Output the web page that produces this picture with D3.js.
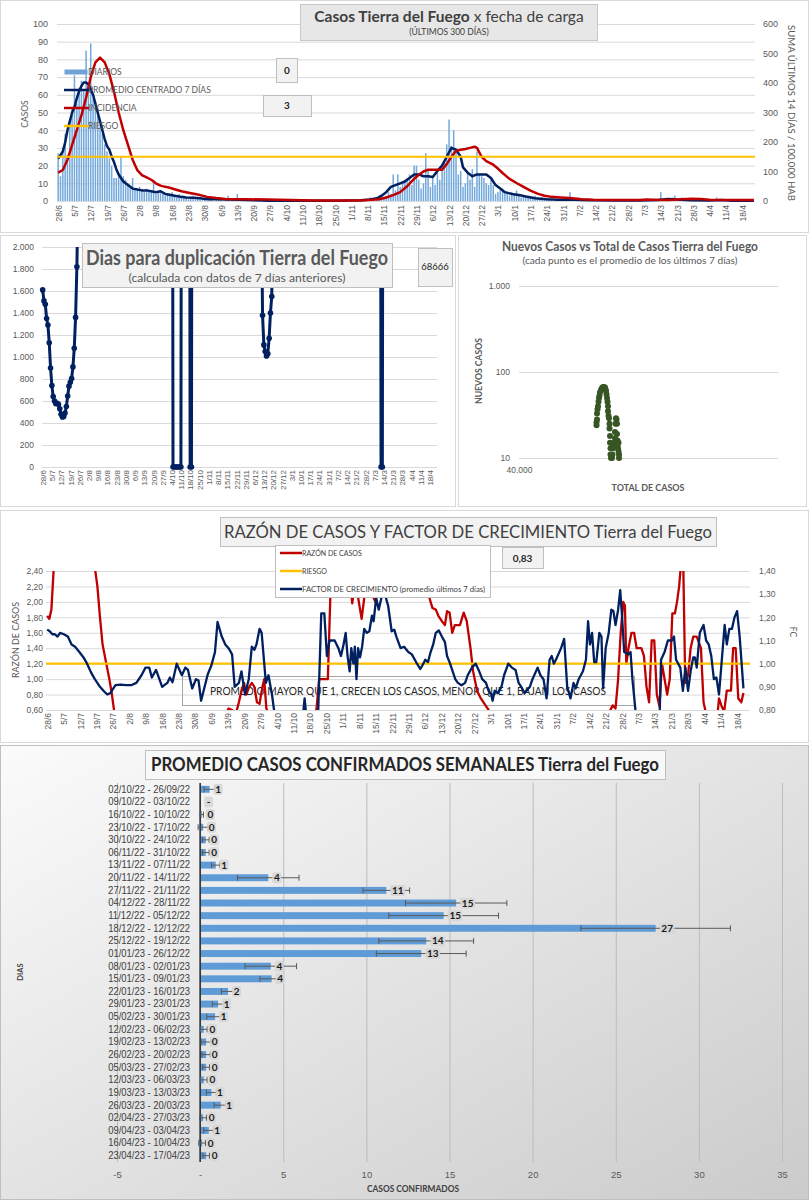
<!DOCTYPE html>
<html>
<head>
<meta charset="utf-8">
<script src="https://cdn.jsdelivr.net/npm/d3@7"></script>
<style>
body{margin:0;background:#fff}
svg{display:block;font-family:Lato,"Open Sans",sans-serif}
</style>
</head>
<body>
<svg id="chart" width="809" height="1200"></svg>
<script>
// ---------- data ----------
const weekLabels = ["28/6","5/7","12/7","19/7","26/7","2/8","9/8","16/8","23/8","30/8","6/9","13/9","20/9","27/9","4/10","11/10","18/10","25/10","1/11","8/11","15/11","22/11","29/11","6/12","13/12","20/12","27/12","3/1","10/1","17/1","24/1","31/1","7/2","14/2","21/2","28/2","7/3","14/3","21/3","28/3","4/4","11/4","18/4"];

// casos diarios (300 dias desde 28/6)
const diarios = [
  27,14,30,38,26,45,52,71,55,64, 68,62,85,66,89,58,56,48,42,38,
  32,28,24,20,13,13,15,25,14,12, 10,8,13,7,6,8,6,5,7,6,
  5,12,4,5,6,4,3,4,3,5, 3,2,4,2,3,2,1,2,3,1,
  2,1,1,2,0,1,1,0,2,1, 1,0,1,3,0,1,0,4,1,0,
  1,0,0,1,0,0,1,0,0,0, 0,1,0,0,0,0,0,0,0,0,
  0,0,0,0,0,0,0,0,0,0, 0,0,0,0,0,0,0,0,1,0,
  0,0,0,0,0,0,0,0,0,0, 0,1,0,0,2,1,0,2,1,3,
  2,3,5,4,15,6,15,8,10,12, 13,15,9,20,20,12,7,10,27,17,
  8,14,9,16,12,18,22,32,46,31, 40,29,15,17,8,10,16,12,18,8,
  28,15,14,13,10,9,12,9,4,5, 6,7,5,4,3,5,4,6,3,2,
  3,2,3,2,1,3,2,1,2,1, 1,2,1,0,1,1,0,1,0,1,
  5,0,1,0,0,1,0,0,0,1, 0,0,1,0,0,0,0,0,1,0,
  0,0,0,0,1,0,0,0,0,0, 0,0,1,0,0,0,0,0,0,5,
  0,0,1,0,2,3,0,1,2,1, 0,0,1,0,0,0,0,0,0,0,
  0,0,0,2,0,0,0,0,0,0, 0,0,0,0,0,0,0,0,0,0
];
// promedio centrado 7 dias [dia, casos]
const promedio7 = [[0,24],[1,26],[2,28],[3,33],[4,40],[5,45],[6,50],[7,53],[8,58],[9,62],[10,65],[11,67],[12,67],[13,66],[14,63],[15,60],[16,55],[17,50],[18,45],[19,40],[20,35],[21,31],[22,29],[23,25],[24,22],[25,18],[26,15],[27,13],[28,11],[29,10],[30,9],[32,7],[34,6.5],[36,6],[38,6],[40,5.5],[42,5],[44,5.5],[46,4],[48,3.5],[50,3],[52,2.5],[55,2],[58,1.8],[61,1.5],[64,1],[68,1],[72,0.8],[78,0.7],[85,0.4],[90,0.2],[100,0.1],[120,0.1],[130,0.4],[134,0.8],[137,1.5],[139,3],[141,5],[143,8],[145,9],[147,10],[149,11],[151,13],[153,15],[155,15],[157,14],[159,14],[161,13.6],[163,17],[165,20],[167,25],[169,30],[171,29],[173,25],[174,19],[176,16],[178,14],[180,15],[182,15],[184,15],[186,13],[188,9],[190,7],[192,5],[195,4],[198,3.4],[201,2.5],[205,1.5],[210,1],[215,0.7],[220,0.9],[225,0.6],[230,0.4],[240,0.3],[250,0.3],[258,0.6],[262,1.2],[266,0.8],[272,0.4],[280,0.3],[285,0.5],[290,0.2],[299,0.1]];
// incidencia: suma 14 dias / 100.000 hab [dia, valor]
const incidencia = [[0,96],[2,105],[4,140],[6,190],[8,240],[10,290],[12,350],[14,420],[16,470],[18,486],[20,470],[22,430],[24,370],[26,300],[28,240],[30,190],[32,140],[34,105],[36,88],[38,80],[40,72],[42,60],[44,52],[46,48],[48,45],[50,40],[53,33],[56,28],[60,22],[64,14],[68,10],[72,7],[80,6],[90,5],[100,3],[110,2],[130,2],[135,4],[138,6],[141,12],[144,20],[147,30],[150,50],[153,75],[155,89],[157,100],[159,106],[162,106],[165,106],[167,125],[169,150],[171,170],[173,174],[175,176],[177,180],[179,184],[180,180],[182,150],[184,135],[187,123],[189,110],[191,95],[194,75],[197,61],[200,48],[203,35],[206,25],[209,18],[212,14],[216,12],[220,10],[225,6],[230,4],[240,3],[250,3],[253,5],[256,4],[262,3],[268,6],[272,8],[276,7],[280,4],[290,3],[299,3]];
const riesgoIncidencia = 150;
const cajas1 = ["0","3"];

// dias para duplicacion [dia, dias] (null = corte)
const duplicacion = [[0,1610],[1,1510],[2,1480],[3,1350],[4,1290],[5,1130],[6,900],[7,740],[8,640],[9,600],[10,575],[11,580],[12,570],[13,530],[14,480],[15,455],[16,460],[17,490],[18,550],[19,645],[20,735],[21,770],[22,805],[23,910],[24,1080],[25,1360],[26,1820],[27,2600],[28,null],
  [98,9000],[99,0],[100,0],[101,0],[102,0],[103,0],[104,0],[105,0],[106,9000],[107,null],
  [111,9000],[112,0],[113,0],[114,9000],[115,null],
  [166,2600],[167,1380],[168,1110],[169,1050],[170,1010],[171,1030],[172,1170],[173,1400],[174,1550],[175,2600],[176,null],
  [256,9000],[257,0],[258,0],[259,9000]];
const cajaDup = "68666";

// nuevos casos vs total de casos [total, nuevos]
const totalVsNuevos = [[49277,24],[49277,26],[49337,28],[49337,33],[49397,37],[49456,40],[49516,45],[49576,50],[49636,53],[49696,58],[49815,62],[49935,65],[50055,67],[50175,67],[50294,66],[50354,63],[50414,60],[50474,55],[50534,50],[50593,45],[50653,40],[50653,35],[50713,31],[50773,29],[50833,25],[50833,22],[50893,18],[50893,15],[50952,13],[50952,11],[51012,10],
  [51132,10],[51192,11],[51252,13],[51311,14],[51371,15],[51371,14],[51431,13.6],[51491,17],[51491,20],[51551,25],[51610,29],[51670,28],[51730,25],[51730,19],[51790,16],[51790,14],[51850,15],[51850,13],[51909,15],[51909,12],[51969,11],[51969,10]];

// razon de casos [dia, razon]
const razon = [[0,1.82],[0.9,1.78],[1.8,1.9],[3.1,2.6],[9.3,3.0],[18.1,3.0],[20.3,2.45],[21.4,2.2],[22.5,1.8],[23.6,1.45],[25.2,1.2],[26.5,1.0],[27.6,0.8],[28.7,0.55],[42.4,0.3],[64.5,0.3],[75.5,0.4],[76.6,0.58],[77.3,0.62],[78.8,0.6],[80.4,0.55],[81.7,0.7],[82.8,0.85],[83.9,0.95],[84.8,0.8],[86.1,0.9],[87.2,0.95],[88.3,0.9],[89.4,0.7],[90.5,0.68],[91.6,0.88],[92.5,1.0],[93.4,0.62],[94.3,0.55],[100,0.3],[108.6,0.3],[113,0.45],[114.8,0.62],[115.9,1.0],[118.5,1.0],[119.6,1.0],[120.7,2.1],[121.9,2.5],[124.1,2.6],[128.5,2.45],[130,1.98],[131.3,2.3],[132.8,2.0],[134,1.78],[135.1,2.05],[136.2,2.3],[138.4,2.1],[139.9,2.0],[141.3,2.3],[143.9,2.1],[146.1,2.5],[150.6,2.6],[155,2.6],[159.4,2.5],[162.9,2.05],[164.2,1.92],[165.6,1.9],[166.7,1.82],[168.2,1.75],[169.5,1.7],[170.4,1.88],[171.5,1.86],[172.6,1.6],[173.7,1.7],[175.9,1.7],[177.5,1.86],[178.8,1.75],[180.4,1.4],[181.5,1.1],[183.2,0.85],[184.8,0.75],[187,0.65],[188.1,0.6],[189.2,0.5],[200,0.3],[225,0.3],[236.6,0.4],[240,0.6],[241,0.66],[242.2,0.62],[243.3,1.0],[244.4,1.6],[245.5,2.0],[246.2,1.95],[246.8,1.2],[247.7,1.4],[249,1.6],[250.1,1.6],[251.2,1.4],[253.2,1.4],[254.3,1.3],[255.4,0.9],[256.5,0.7],[257.6,1.5],[258.7,1.5],[259.8,0.8],[260.9,0.65],[262,1.2],[263.1,1.0],[264.2,0.8],[265.3,1.0],[266.4,1.85],[267.5,1.85],[268.4,2.0],[269.3,2.2],[270.4,2.6],[271,2.6],[271.9,0.95],[273.1,1.05],[274.2,1.4],[275.3,1.55],[276.8,1.55],[278.6,1.4],[279.7,0.7],[280.8,0.55],[285.2,0.4],[286.3,0.75],[287.4,0.65],[288.5,0.58],[289.6,0.85],[291.4,0.85],[292.3,1.4],[293.4,1.4],[294.5,0.75],[295.8,0.7],[296.7,0.82]];
// factor de crecimiento (promedio 7 dias) [dia, fc]
const factorCrec = [[0,1.147],[1.1,1.14],[2.2,1.127],[3.3,1.127],[4.4,1.117],[5.5,1.133],[7.1,1.127],[8.8,1.117],[10.4,1.083],[11.9,1.073],[13.7,1.05],[15.5,1.027],[17,1.0],[18.8,0.96],[20.3,0.933],[22.5,0.9],[24.3,0.88],[25.6,0.867],[26.9,0.873],[29.1,0.907],[31.3,0.91],[33.6,0.907],[35.8,0.907],[38,0.917],[40.2,0.95],[41.9,0.983],[43.5,0.983],[44.6,0.94],[46.4,0.973],[49,0.9],[51.2,0.917],[52.3,0.94],[53.4,0.92],[55.2,1.0],[57.4,0.95],[58.9,0.983],[60,0.973],[61.8,0.893],[63.4,0.933],[64.5,0.927],[65.6,0.84],[67.1,0.9],[68.4,0.953],[70,0.993],[71.5,1.05],[72.6,1.18],[74.4,1.117],[75.9,1.083],[77.3,1.067],[78.8,1.04],[79.9,0.9],[81.7,0.917],[82.8,0.967],[84.3,0.867],[85.9,0.933],[87.2,1.073],[88.3,1.06],[89.2,1.083],[90.5,1.15],[91.4,1.133],[92.5,1.0],[93.2,0.917],[94.3,0.95],[95.8,0.867],[97.1,0.767],[99.8,0.7],[104.2,0.7],[108.6,0.733],[109.7,0.85],[110.8,0.733],[115.2,0.7],[116.8,1.217],[118.1,1.217],[119.2,1.033],[120.3,1.1],[122.5,1.1],[124.1,1.067],[125.2,1.033],[126.3,1.083],[127.2,1.133],[128,1.033],[128.9,0.967],[129.6,1.067],[130.5,1.0],[131.1,1.073],[131.8,0.933],[132.5,1.067],[133.3,1.027],[134.2,1.073],[135.1,1.15],[136.2,1.133],[137.3,1.14],[138.4,1.207],[139.1,1.183],[140.2,1.283],[141.3,1.233],[142.4,1.283],[143.9,1.3],[145.3,1.25],[146.8,1.14],[147.9,1.147],[148.8,1.117],[150.6,1.067],[152.1,1.073],[153.9,1.05],[155.4,1.04],[157.2,1.007],[159,0.977],[160.3,1.0],[161.1,1.017],[162.3,1.007],[163.4,1.05],[164.5,1.083],[165.6,1.133],[166.9,1.143],[168.2,1.117],[169.5,1.093],[170.4,1.033],[171.7,1.0],[172.8,0.967],[173.9,0.933],[175,0.917],[176.6,0.907],[178.1,0.917],[179.2,0.95],[181,0.983],[182.6,1.0],[184.1,0.967],[185.4,0.933],[187,0.917],[188.1,0.883],[189.2,0.867],[189.8,0.84],[190.7,0.883],[192,0.873],[193.6,0.9],[194.7,0.95],[196.5,1.0],[198,0.983],[199.6,0.973],[200.9,0.917],[202.4,0.893],[203.5,0.873],[205.7,0.9],[206.8,0.933],[209,0.983],[210.2,0.95],[211.5,0.933],[212.8,0.85],[214.1,1.017],[215,1.033],[215.9,1.0],[216.8,1.017],[219,1.067],[220.3,1.107],[221.6,0.9],[223,0.85],[224.3,0.917],[225.2,0.893],[226.5,0.933],[228.3,0.967],[229.6,1.017],[230.5,1.183],[231.3,1.083],[232.2,1.133],[233.1,1.007],[234,1.007],[235.3,1.133],[236.2,1.117],[236.9,0.893],[238,1.067],[239.3,1.133],[240.4,1.233],[241.3,1.227],[242.2,1.167],[243.3,1.233],[244.2,1.317],[245,1.2],[245.9,1.05],[247.7,1.04],[248.6,1.05],[249.4,0.933],[251,0.767],[254.3,0.733],[258.7,0.7],[260.9,0.733],[261.6,1.017],[263.1,1.05],[264.5,1.1],[266.2,1.1],[267.1,1.117],[268,1.017],[269.8,0.983],[270.9,0.883],[272,0.983],[273.1,0.883],[274.2,0.967],[275.3,1.027],[276,1.027],[276.8,0.983],[278.1,1.133],[279.7,1.167],[280.8,1.1],[281.9,1.083],[283,1.033],[284.1,0.933],[285.2,0.94],[286.3,0.867],[287.9,1.067],[288.7,1.167],[289.6,1.083],[290.7,1.15],[291.8,1.15],[292.9,1.2],[294,1.227],[295.1,1.117],[296.7,0.893]];
const riesgoRazon = 1.2;
const cajaRazon = "0,83";

// promedio semanal de casos confirmados
const semanas = ["02/10/22 - 26/09/22","09/10/22 - 03/10/22","16/10/22 - 10/10/22","23/10/22 - 17/10/22","30/10/22 - 24/10/22","06/11/22 - 31/10/22","13/11/22 - 07/11/22","20/11/22 - 14/11/22","27/11/22 - 21/11/22","04/12/22 - 28/11/22","11/12/22 - 05/12/22","18/12/22 - 12/12/22","25/12/22 - 19/12/22","01/01/23 - 26/12/22","08/01/23 - 02/01/23","15/01/23 - 09/01/23","22/01/23 - 16/01/23","29/01/23 - 23/01/23","05/02/23 - 30/01/23","12/02/23 - 06/02/23","19/02/23 - 13/02/23","26/02/23 - 20/02/23","05/03/23 - 27/02/23","12/03/23 - 06/03/23","19/03/23 - 13/03/23","26/03/23 - 20/03/23","02/04/23 - 27/03/23","09/04/23 - 03/04/23","16/04/23 - 10/04/23","23/04/23 - 17/04/23"];
const promSemanal = [0.57,0,0.1,0.18,0.34,0.34,0.94,4.1,11.2,15.4,14.65,27.4,13.6,13.3,4.25,4.3,1.68,1.08,0.9,0.22,0.36,0.36,0.36,0.22,0.68,1.24,0.18,0.52,0.12,0.36];
const errSemanal = [0.33,0,0.1,0.3,0.2,0.2,0.25,1.85,1.4,3.05,3.3,4.5,2.85,2.7,1.55,0.7,0.4,0.35,0.5,0.2,0.3,0.25,0.2,0.2,0.3,0.4,0.2,0.3,0.2,0.2];

// ---------- helpers ----------
const NAVY = '#002060', RED = '#c00000', GOLD = '#ffc000', BLUE = '#5b9bd5', GRID = '#d9d9d9', TICK = '#595959';
const es = d3.formatLocale({decimal: ',', thousands: '.', grouping: [3], currency: ['$', '']});
const svg = d3.select('#chart');

function styleAxis(g, size) {
  g.select('.domain').remove();
  g.selectAll('.tick line').attr('stroke', GRID);
  g.selectAll('.tick text').attr('fill', TICK).style('font-size', size + 'px');
}
function rotLabels(g, gap) {
  g.selectAll('.tick text').attr('transform', 'rotate(-90)').attr('x', -gap).attr('y', 0)
    .attr('dy', '0.35em').style('text-anchor', 'end');
}
function txt(x, y, s, o = {}) {
  const t = svg.append('text').attr('x', x).attr('y', y).text(s)
    .attr('fill', o.fill || TICK).style('font-size', (o.size || 9) + 'px')
    .attr('text-anchor', o.anchor || 'start');
  if (o.bold) t.style('font-weight', 'bold');
  if (o.len) t.attr('textLength', o.len).attr('lengthAdjust', 'spacingAndGlyphs');
  if (o.rot) t.attr('transform', `rotate(${o.rot},${x},${y})`).attr('dy', '0.35em');
  return t;
}
function rect(x, y, w, h, fill, stroke) {
  return svg.append('rect').attr('x', x + 0.5).attr('y', y + 0.5).attr('width', w).attr('height', h)
    .attr('fill', fill).attr('stroke', stroke || '#bfbfbf');
}
function clip(id, x, y, w, h) {
  svg.append('clipPath').attr('id', id).append('rect').attr('x', x).attr('y', y).attr('width', w).attr('height', h);
}
const weekTicks = weekLabels.map((_, i) => i * 7);

// panel frames
rect(0, 0, 808, 232, '#fff', GRID);
rect(0, 235, 455, 271, '#fff', GRID);
rect(458, 235, 348, 271, '#fff', GRID);
rect(0, 510, 808, 232, '#fff', GRID);

// ---------- panel 1: casos diarios ----------
{
  const L = 57, R = 755, T = 24, B = 201;
  const x = d3.scaleLinear().domain([-0.5, 299.5]).range([L, R]);
  const y = d3.scaleLinear().domain([0, 100]).range([B, T]);
  const yr = d3.scaleLinear().domain([0, 600]).range([B, T]);

  svg.append('g').attr('transform', `translate(${L},0)`)
    .call(d3.axisLeft(y).ticks(10).tickSize(-(R - L)).tickPadding(9)).call(g => styleAxis(g, 9));
  svg.append('g').attr('transform', `translate(${R},0)`)
    .call(d3.axisRight(yr).ticks(6).tickSize(0).tickPadding(8)).call(g => styleAxis(g, 9));
  svg.append('g').attr('transform', `translate(0,${B})`)
    .call(d3.axisBottom(x).tickValues(weekTicks).tickFormat(d => weekLabels[d / 7]).tickSize(0))
    .call(g => { styleAxis(g, 8.5); rotLabels(g, 4); });

  svg.append('g').selectAll('rect').data(diarios).join('rect')
    .attr('x', (d, i) => x(i) - 0.75).attr('width', 1.5)
    .attr('y', d => y(d)).attr('height', d => B - y(d)).attr('fill', '#74a9dc');

  const ln = ys => d3.line().x(d => x(d[0])).y(d => ys(d[1]));
  svg.append('path').datum(promedio7).attr('d', ln(y)).attr('fill', 'none')
    .attr('stroke', NAVY).attr('stroke-width', 2.5).attr('stroke-linejoin', 'round');
  svg.append('path').datum(incidencia).attr('d', ln(yr)).attr('fill', 'none')
    .attr('stroke', RED).attr('stroke-width', 2.5).attr('stroke-linejoin', 'round');
  svg.append('line').attr('x1', L).attr('x2', R).attr('y1', yr(riesgoIncidencia)).attr('y2', yr(riesgoIncidencia))
    .attr('stroke', GOLD).attr('stroke-width', 2.2);

  // legend
  const leg = [['DIARIOS', 'bar', BLUE], ['PROMEDIO CENTRADO 7 DÍAS', 'line', NAVY], ['INCIDENCIA', 'line', RED], ['RIESGO', 'line', GOLD]];
  leg.forEach((d, i) => {
    const ly = 72 + i * 18;
    if (d[1] === 'bar') rect(64, ly - 3, 23, 5, '#6fa3d8', 'none');
    else svg.append('line').attr('x1', 64).attr('x2', 89).attr('y1', ly).attr('y2', ly).attr('stroke', d[2]).attr('stroke-width', 2.5);
    txt(88, ly + 3, d[0], {size: 8.5});
  });

  txt(25, 114, 'CASOS', {size: 8.5, anchor: 'middle', rot: -90});
  txt(791, 113, 'SUMA ÚLTIMOS 14 DÍAS / 100.000 HAB', {size: 9.5, anchor: 'middle', rot: 90, len: 176});

  rect(300, 4, 297, 36, '#e7e7e7', '#c8c8c8');
  const t = svg.append('text').attr('x', 449).attr('y', 22).attr('text-anchor', 'middle')
    .attr('fill', '#404040').style('font-size', '15.5px');
  t.append('tspan').style('font-weight', 'bold').text('Casos Tierra del Fuego');
  t.append('tspan').text(' x fecha de carga');
  txt(449, 35, '(ÚLTIMOS 300 DÍAS)', {size: 8.5, anchor: 'middle', fill: '#404040'});

  rect(276, 58, 21, 24, '#f2f2f2');
  txt(287, 73.5, cajas1[0], {size: 10, bold: true, anchor: 'middle', fill: '#262626'});
  rect(263, 95, 48, 21, '#f2f2f2');
  txt(287, 109, cajas1[1], {size: 10, bold: true, anchor: 'middle', fill: '#262626'});
}

// ---------- panel 2: dias para duplicacion ----------
{
  const L = 42, R = 437, T = 247, B = 467;
  const x = d3.scaleLinear().domain([-0.5, 299.5]).range([L, R]);
  const y = d3.scaleLinear().domain([0, 2000]).range([B, T]);
  svg.append('g').attr('transform', `translate(${L},0)`)
    .call(d3.axisLeft(y).ticks(10).tickFormat(es.format(',')).tickSize(-(R - L)).tickPadding(8))
    .call(g => styleAxis(g, 8.5));
  svg.append('g').attr('transform', `translate(0,${B})`)
    .call(d3.axisBottom(x).tickValues(weekTicks).tickFormat(d => weekLabels[d / 7]).tickSize(0))
    .call(g => { styleAxis(g, 8); rotLabels(g, 3); });

  clip('clip2', L - 4, T, R - L + 8, B - T + 5);
  const g = svg.append('g').attr('clip-path', 'url(#clip2)');
  g.append('path').datum(duplicacion)
    .attr('d', d3.line().defined(d => d[1] !== null).x(d => x(d[0])).y(d => y(d[1])))
    .attr('fill', 'none').attr('stroke', NAVY).attr('stroke-width', 3).attr('stroke-linejoin', 'round');
  g.selectAll('circle').data(duplicacion.filter(d => d[1] !== null)).join('circle')
    .attr('cx', d => x(d[0])).attr('cy', d => y(d[1])).attr('r', 2.8).attr('fill', NAVY);

  rect(82, 243, 310, 44, '#f2f2f2');
  txt(237, 265, 'Dias para duplicación Tierra del Fuego', {size: 20, bold: true, anchor: 'middle', len: 302});
  txt(237, 282, '(calculada con datos de 7 días anteriores)', {size: 12, anchor: 'middle', len: 217});
  rect(418, 248, 34, 38, '#f2f2f2');
  txt(435, 270, cajaDup, {size: 9.5, anchor: 'middle', fill: '#262626'});
}

// ---------- panel 3: nuevos casos vs total ----------
{
  const L = 519, R = 778, T = 286, B = 458;
  const x = d3.scaleLinear().domain([40000, 71000]).range([L, R]);
  const y = d3.scaleLog().domain([10, 1000]).range([B, T]);
  svg.append('g').attr('transform', `translate(${L},0)`)
    .call(d3.axisLeft(y).tickValues([10, 100, 1000]).tickFormat(es.format(',')).tickSize(-(R - L)).tickPadding(9))
    .call(g => styleAxis(g, 8.5));
  svg.append('g').attr('transform', `translate(0,${B})`)
    .call(d3.axisBottom(x).tickValues([40000]).tickFormat(es.format(',')).tickSize(0).tickPadding(9))
    .call(g => styleAxis(g, 8.5));
  svg.append('g').selectAll('circle').data(totalVsNuevos).join('circle')
    .attr('cx', d => x(d[0])).attr('cy', d => y(d[1])).attr('r', 3).attr('fill', '#375623');

  txt(630, 251, 'Nuevos Casos vs Total de Casos Tierra del Fuego', {size: 12.5, bold: true, anchor: 'middle', len: 256});
  txt(630, 264, '(cada punto es el promedio de los últimos 7 días)', {size: 9.5, anchor: 'middle', len: 215});
  txt(479, 371, 'NUEVOS  CASOS', {size: 9, bold: true, anchor: 'middle', rot: -90, len: 66});
  txt(648, 491, 'TOTAL DE CASOS', {size: 9, bold: true, anchor: 'middle', len: 73});
}

// ---------- panel 4: razon de casos y factor de crecimiento ----------
{
  const L = 46, R = 750, T = 571, B = 710;
  const x = d3.scaleLinear().domain([-0.5, 299.5]).range([L, R]);
  const y = d3.scaleLinear().domain([0.6, 2.4]).range([B, T]);
  const yr = d3.scaleLinear().domain([0.8, 1.4]).range([B, T]);
  svg.append('g').attr('transform', `translate(${L},0)`)
    .call(d3.axisLeft(y).ticks(9).tickFormat(es.format(',.2f')).tickSize(-(R - L)).tickPadding(3))
    .call(g => styleAxis(g, 8.5));
  svg.append('g').attr('transform', `translate(${R},0)`)
    .call(d3.axisRight(yr).ticks(6).tickFormat(es.format(',.2f')).tickSize(0).tickPadding(9))
    .call(g => styleAxis(g, 8.5));
  svg.append('g').attr('transform', `translate(0,${B})`)
    .call(d3.axisBottom(x).tickValues(weekTicks).tickFormat(d => weekLabels[d / 7]).tickSize(0))
    .call(g => { styleAxis(g, 8.5); rotLabels(g, 3); });

  rect(182, 676, 452, 29, 'none', '#a6a6a6');
  txt(408, 695, 'PROMEDIO MAYOR QUE 1, CRECEN LOS CASOS, MENOR QUE 1, BAJAN LOS CASOS', {size: 11.5, anchor: 'middle', fill: '#262626', len: 396});

  clip('clip4', L, T, R - L, B - T);
  const g = svg.append('g').attr('clip-path', 'url(#clip4)');
  g.append('path').datum(razon).attr('d', d3.line().x(d => x(d[0])).y(d => y(d[1])))
    .attr('fill', 'none').attr('stroke', RED).attr('stroke-width', 2.3).attr('stroke-linejoin', 'round');
  g.append('line').attr('x1', L).attr('x2', R).attr('y1', y(riesgoRazon)).attr('y2', y(riesgoRazon))
    .attr('stroke', GOLD).attr('stroke-width', 2.2);
  g.append('path').datum(factorCrec).attr('d', d3.line().x(d => x(d[0])).y(d => yr(d[1])))
    .attr('fill', 'none').attr('stroke', NAVY).attr('stroke-width', 2.3).attr('stroke-linejoin', 'round');

  txt(16, 640, 'RAZÓN  DE  CASOS', {size: 8.5, anchor: 'middle', rot: -90, len: 76});
  txt(793, 632, 'FC', {size: 8.5, anchor: 'middle', rot: 90});

  rect(220, 517, 496, 29, '#f2f2f2');
  txt(468, 538, 'RAZÓN DE CASOS Y FACTOR DE CRECIMIENTO Tierra del Fuego', {size: 17, anchor: 'middle', fill: '#404040', len: 488});

  rect(275, 545, 215, 52, '#fff');
  const leg = [['RAZÓN DE CASOS', RED], ['RIESGO', GOLD], ['FACTOR DE CRECIMIENTO (promedio últimos 7 días)', NAVY]];
  leg.forEach((d, i) => {
    const ly = 553 + i * 18;
    svg.append('line').attr('x1', 280).attr('x2', 302).attr('y1', ly).attr('y2', ly).attr('stroke', d[1]).attr('stroke-width', 2.5);
    const t = txt(302, ly + 2.5, d[0], {size: 7, fill: '#404040'});
    if (i === 2) t.attr('textLength', 183).attr('lengthAdjust', 'spacingAndGlyphs');
  });
  rect(502, 547, 41, 21, '#f2f2f2');
  txt(522.5, 561.5, cajaRazon, {size: 10, bold: true, anchor: 'middle', fill: '#262626'});
}

// ---------- panel 5: promedio semanal ----------
{
  const grad = svg.append('defs').append('linearGradient').attr('id', 'bg5')
    .attr('x1', 0).attr('y1', 0).attr('x2', 1).attr('y2', 1);
  grad.append('stop').attr('offset', '0%').attr('stop-color', '#fbfbfb');
  grad.append('stop').attr('offset', '100%').attr('stop-color', '#cbcbcb');
  rect(0, 745, 808, 454, 'url(#bg5)', '#bfbfbf');

  const L = 117, R = 782, T = 783, B = 1162;
  const x = d3.scaleLinear().domain([-5, 35]).range([L, R]);
  const y = d3.scaleBand().domain(semanas).range([T, B]).paddingInner(0.45).paddingOuter(0.225);

  svg.append('g').attr('transform', `translate(0,${B})`)
    .call(d3.axisBottom(x).ticks(8).tickFormat(v => v === 0 ? '-' : v).tickSize(-(B - T)).tickPadding(9))
    .call(g => { styleAxis(g, 9.5); g.selectAll('.tick line').attr('stroke', '#bcbcbc'); });
  svg.append('g').attr('transform', `translate(${x(0)},0)`)
    .call(d3.axisLeft(y).tickSize(0).tickPadding(10))
    .call(g => {
      g.select('.domain').remove();
      g.selectAll('.tick text').attr('fill', '#404040').style('font-size', '10.5px')
        .attr('textLength', 82).attr('lengthAdjust', 'spacingAndGlyphs');
    });

  svg.append('g').selectAll('rect').data(promSemanal).join('rect')
    .attr('x', x(0)).attr('y', (d, i) => y(semanas[i]))
    .attr('width', d => x(d) - x(0)).attr('height', y.bandwidth()).attr('fill', '#5f9bd6');
  svg.append('line').attr('x1', x(0)).attr('x2', x(0)).attr('y1', T).attr('y2', B)
    .attr('stroke', '#262626').attr('stroke-width', 1.5);

  const eb = svg.append('g').attr('stroke', '#595959').attr('stroke-width', 1);
  promSemanal.forEach((v, i) => {
    const e = errSemanal[i];
    if (!e) return;
    const cy = y(semanas[i]) + y.bandwidth() / 2;
    eb.append('line').attr('x1', x(v - e)).attr('x2', x(v + e)).attr('y1', cy).attr('y2', cy);
    [v - e, v + e].forEach(p => eb.append('line').attr('x1', x(p)).attr('x2', x(p)).attr('y1', cy - 3).attr('y2', cy + 3));
  });

  const lab = svg.append('g');
  promSemanal.forEach((v, i) => {
    const s = v === 0 ? '-' : d3.format('.0f')(v);
    const cy = y(semanas[i]) + y.bandwidth() / 2;
    const lx = x(v) + 4;
    const w = s.length * 6 + 3;
    lab.append('rect').attr('x', lx).attr('y', cy - 5.5).attr('width', w).attr('height', 11).attr('rx', 2)
      .attr('fill', '#d6d6d6').attr('opacity', 0.9);
    lab.append('text').attr('x', lx + w / 2).attr('y', cy + 3.5).attr('text-anchor', 'middle')
      .style('font-size', '10px').style('font-weight', 'bold').attr('fill', '#1a1a1a').text(s);
  });

  rect(145, 750, 520, 29, '#f8f8f8');
  txt(405, 771, 'PROMEDIO CASOS CONFIRMADOS SEMANALES Tierra del Fuego', {size: 18, bold: true, anchor: 'middle', fill: '#262626', len: 508});
  txt(413, 1192, 'CASOS CONFIRMADOS', {size: 8.5, bold: true, anchor: 'middle', fill: '#404040', len: 92});
  txt(20, 972, 'DIAS', {size: 7.5, bold: true, anchor: 'middle', rot: -90, fill: '#404040'});
}
</script>
</body>
</html>
